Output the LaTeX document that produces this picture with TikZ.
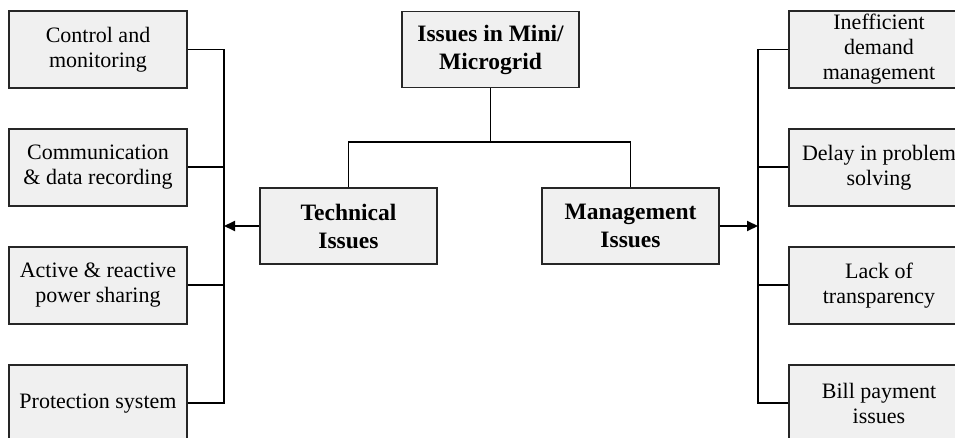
\documentclass[tikz,border=0pt]{standalone}
\usepackage{fontspec}
\setmainfont{Liberation Serif}
\usetikzlibrary{positioning,arrows.meta}

\begin{document}
\begin{tikzpicture}[x=1pt,y=-1pt,line width=1.9pt,node distance=39pt,
	issue/.style={shape=rectangle,draw=black!85,fill=black!6,minimum width=178pt,minimum height=77pt,inner sep=0pt,align=center,font=\fontsize{22}{25}\selectfont},
	head/.style={issue,minimum width=177pt,minimum height=76pt,font=\bfseries\fontsize{23.5}{28}\selectfont},
	tip/.style={-{Triangle[length=11pt,width=10pt]}}]
	\clip (0,0) rectangle (955,438);
	\node (mini) at (490.5,49.5) [head] {Issues in Mini/\\Microgrid};
	\node (technical) at (348.5,226) [head] {Technical\\Issues};
	\node (management) at (630.5,226) [head] {Management\\Issues};

	\node (control) at (98,49.5) [issue] {Control and\\monitoring};
	\node (comm) [below=of control, issue] {Communication\\\& data recording};
	\node (power) [below=of comm, issue] {Active \& reactive\\power sharing};
	\node (protection) [below=of power, issue] {Protection system};

	\node (demand) at (879,49.5) [issue,minimum width=180pt] {Inefficient\\demand\\management};
	\node (delay) [below=of demand, issue,minimum width=180pt] {Delay in problem\\solving};
	\node (transparency) [below=of delay, issue,minimum width=180pt] {Lack of\\transparency};
	\node (bill) [below=of transparency, issue,minimum width=180pt] {Bill payment\\issues};

	\coordinate (split) at (490.5,142);
	\coordinate (lbus) at (224,226);
	\coordinate (rbus) at (758,226);

	\draw (mini.south) -- (split);
	\draw (technical.north) |- (split) -| (management.north);

	\draw [tip] (technical.west) -- (lbus);
	\draw (control.east) -| (lbus);
	\draw (protection.east) -| (lbus);
	\draw (comm.east) -- (comm.east -| lbus);
	\draw (power.east) -- (power.east -| lbus);

	\draw [tip] (management.east) -- (rbus);
	\draw (demand.west) -| (rbus);
	\draw (bill.west) -| (rbus);
	\draw (delay.west) -- (delay.west -| rbus);
	\draw (transparency.west) -- (transparency.west -| rbus);
\end{tikzpicture}
\end{document}
